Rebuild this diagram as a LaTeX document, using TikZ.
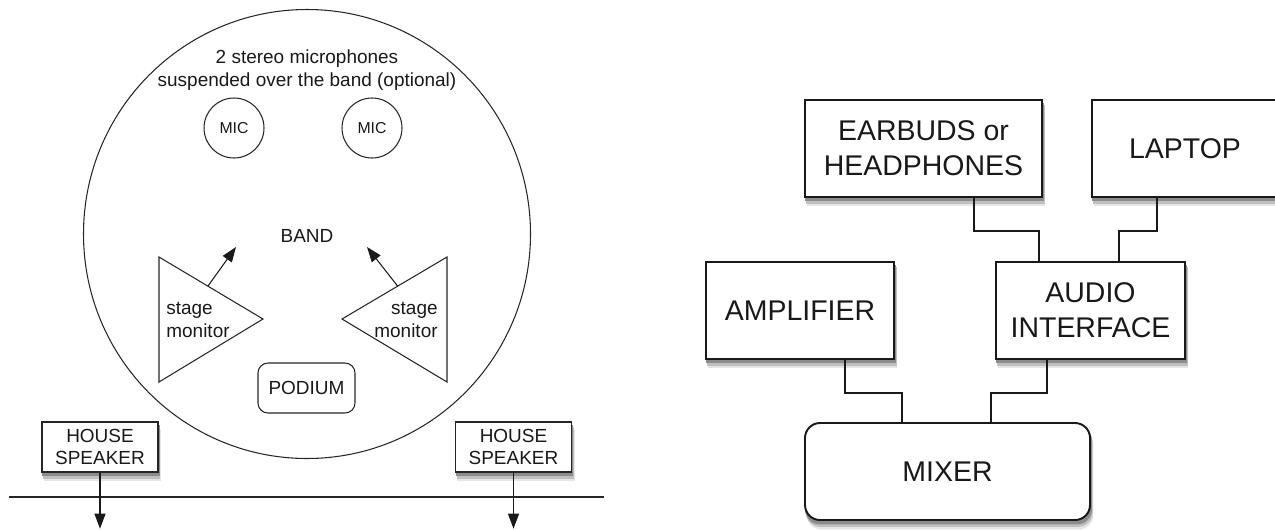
\documentclass[tikz,border=0pt]{standalone}
\usepackage{fontspec}
\setmainfont{Liberation Sans}
\usetikzlibrary{arrows.meta, calc, positioning, backgrounds}

\begin{document}
\begin{tikzpicture}[
  stage/.style={draw=black!85, line width=0.6pt},
  tag/.style={font=\fontsize{10.8}{12.9}\selectfont, text=black!90, inner sep=0pt},
  mic/.style={circle, draw=black!85, line width=0.6pt, minimum size=1.2cm, inner sep=0pt, text=black!90, font=\fontsize{9}{11}\selectfont},
  speaker/.style={draw=black!85, fill=white, line width=0.8pt, minimum width=2.32cm, minimum height=1cm, inner sep=0pt, align=center, text=black!90, font=\fontsize{10.8}{12.7}\selectfont},
  gear/.style={draw=black!90, fill=white, line width=1.1pt, minimum height=1.94cm, inner sep=0pt, align=center, text=black!90, font=\fontsize{16.2}{19.7}\selectfont},
  wire/.style={draw=black!90, line width=0.8pt},
  sendarrow/.style={-{Triangle[length=0.3cm, width=0.22cm]}, draw=black!90, line width=0.6pt},
  shade1/.style={fill=black!10, draw=none},
  shade2/.style={fill=black!25, draw=none},
  shade3/.style={fill=black!45, draw=none},
]
\useasboundingbox (0,0) rectangle (25.5,10.58);

% Stage plan (left)
\draw[stage] (6.14,5.90) ellipse (4.47 and 4.49);
\node[tag, align=center] (caption) at (6.14,9.18) {2 stereo microphones\\suspended over the band (optional)};
\node[mic] (micL) at (4.68,8.02) {MIC};
\node[mic] (micR) at (7.44,8.02) {MIC};
\node[tag] (band) at (6.14,5.86) {BAND};

% Stage monitors, pointing inward
\coordinate (ltTop) at (3.18,5.44);
\coordinate (ltBot) at (3.18,2.94);
\coordinate (ltTip) at (5.26,4.20);
\coordinate (rtTop) at (8.94,5.44);
\coordinate (rtBot) at (8.94,2.94);
\coordinate (rtTip) at (6.84,4.20);
\draw[stage] (ltTop) -- (ltTip) -- (ltBot) -- cycle;
\draw[stage] (rtTop) -- (rtTip) -- (rtBot) -- cycle;
\node[tag, align=left, anchor=west] (monL) at (3.32,4.18) {stage\\monitor};
\node[tag, align=right, anchor=east] (monR) at (8.76,4.18) {stage\\monitor};

\coordinate (fromL) at ($(ltTop)!0.47!(ltTip)$);
\coordinate (fromR) at ($(rtTop)!0.47!(rtTip)$);
\coordinate (aimL) at (4.72,5.64);
\coordinate (aimR) at (7.34,5.64);
\draw[sendarrow] (fromL) -- (aimL);
\draw[sendarrow] (fromR) -- (aimR);

\node[stage, tag, rounded corners=0.2cm, minimum width=1.94cm, minimum height=1cm] (podium) at (6.13,2.82) {PODIUM};

% House speakers and front edge
\node[speaker] (houseL) at (2.0,1.64) {HOUSE\\SPEAKER};
\node[speaker] (houseR) at (10.27,1.64) {HOUSE\\SPEAKER};
\draw[stage] (0.18,0.64) -- (12.08,0.64);
\coordinate (outL) at ($(houseL.south)+(0,-1.12)$);
\coordinate (outR) at ($(houseR.south)+(0,-1.12)$);
\draw[sendarrow] (houseL.south) -- (outL);
\draw[sendarrow] (houseR.south) -- (outR);

% Signal chain (right)
\node[gear, minimum width=4.74cm] (earbuds) at (18.47,7.61) {EARBUDS or\\HEADPHONES};
\node[gear, minimum width=3.72cm] (laptop) at (23.70,7.61) {LAPTOP};
\node[gear, minimum width=3.76cm] (amp) at (16.00,4.37) {AMPLIFIER};
\node[gear, minimum width=3.78cm] (audio) at (21.81,4.37) {AUDIO\\INTERFACE};
\node[gear, rounded corners=0.3cm, minimum width=5.7cm] (mixer) at (18.95,1.15) {MIXER};

\draw[wire] ([xshift=1.01cm]earbuds.south) -- ++(0,-0.66) -| ([xshift=-1.03cm]audio.north);
\draw[wire] ([xshift=-0.56cm]laptop.south) -- ++(0,-0.66) -| ([xshift=0.57cm]audio.north);
\draw[wire] ([xshift=0.9cm]amp.south) -- ++(0,-0.66) -| ([xshift=-0.91cm]mixer.north);
\draw[wire] ([xshift=-0.87cm]audio.south) -- ++(0,-0.66) -| ([xshift=0.87cm]mixer.north);

% soft shadows under the boxes
\begin{scope}[on background layer]
  \foreach \bx in {houseL, houseR, earbuds, laptop, amp, audio} {
    \path[shade1] ($(\bx.south west)+(0.05,-0.17)$) rectangle ($(\bx.north east)+(0.05,-0.17)$);
    \path[shade2] ($(\bx.south west)+(0.035,-0.12)$) rectangle ($(\bx.north east)+(0.035,-0.12)$);
    \path[shade3] ($(\bx.south west)+(0.02,-0.07)$) rectangle ($(\bx.north east)+(0.02,-0.07)$);
  }
  \path[shade1, rounded corners=0.3cm] ($(mixer.south west)+(0.05,-0.17)$) rectangle ($(mixer.north east)+(0.05,-0.17)$);
  \path[shade2, rounded corners=0.3cm] ($(mixer.south west)+(0.035,-0.12)$) rectangle ($(mixer.north east)+(0.035,-0.12)$);
  \path[shade3, rounded corners=0.3cm] ($(mixer.south west)+(0.02,-0.07)$) rectangle ($(mixer.north east)+(0.02,-0.07)$);
\end{scope}

\end{tikzpicture}
\end{document}
